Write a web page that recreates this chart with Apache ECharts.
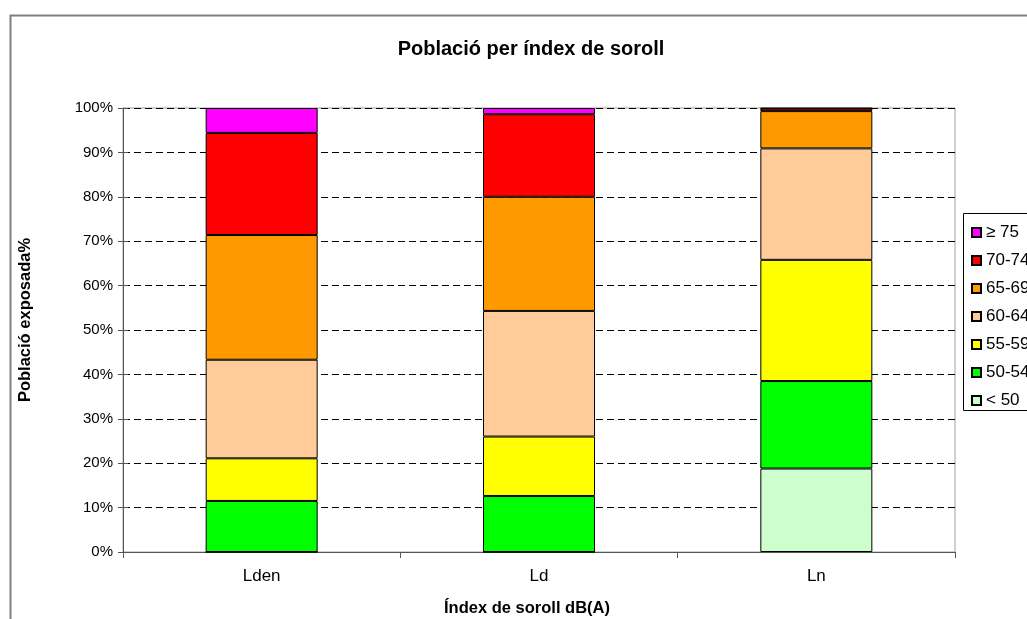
<!DOCTYPE html>
<html>
<head>
<meta charset="utf-8">
<script src="https://cdn.jsdelivr.net/npm/echarts@6/dist/echarts.min.js"></script>
<style>html,body{margin:0;padding:0;background:#fff}#c{width:1027px;height:619px}</style>
</head>
<body>
<div id="c"></div>
<script>
const categories = ['Lden', 'Ld', 'Ln'];
const seriesNames = ['< 50', '50-54', '55-59', '60-64', '65-69', '70-74', '≥ 75'];
const below50 = [0, 0, 18.8];
const r50_54 = [11.5, 12.6, 19.7];
const r55_59 = [9.6, 13.4, 27.3];
const r60_64 = [22.2, 28.3, 25.1];
const r65_69 = [28.1, 25.7, 8.4];
const r70_74 = [23.0, 18.6, 0.6];
const above75 = [5.6, 1.4, 0.1];
const yTicks = ['0%', '10%', '20%', '30%', '40%', '50%', '60%', '70%', '80%', '90%', '100%'];
const seriesValues = [below50, r50_54, r55_59, r60_64, r65_69, r70_74, above75];
const colors = ['#CCFFCC', '#00FF00', '#FFFF00', '#FFCC99', '#FF9900', '#FF0000', '#FF00FF'];

const chart = echarts.init(document.getElementById('c'), null, {renderer: 'canvas'});
const font = 'Liberation Sans, Arial, sans-serif';
chart.setOption({
  animation: false,
  backgroundColor: '#fff',
  textStyle: {fontFamily: font},
  title: {
    text: 'Població per índex de soroll',
    left: 526, top: 34, textAlign: 'center',
    textStyle: {fontFamily: font, fontSize: 20, fontWeight: 'bold', color: '#000'}
  },
  graphic: [
    {type: 'rect', left: 8, top: 13, shape: {width: 1100, height: 700}, style: {fill: 'none', stroke: '#808080', lineWidth: 2}, z: 0},
    {type: 'rect', left: 963, top: 213, shape: {width: 100, height: 197}, style: {fill: '#fff', stroke: '#000', lineWidth: 1}, z: 1}
  ],
  legend: {
    orient: 'vertical',
    left: 966, top: 219,
    data: seriesNames.slice().reverse(),
    icon: 'rect', itemWidth: 9, itemHeight: 9, itemGap: 11,
    textStyle: {fontFamily: font, fontSize: 17, color: '#000', lineHeight: 17},
    z: 5
  },
  grid: {left: 123, top: 108, width: 832, height: 444, outerBoundsMode: 'none', containLabel: false,
    show: true, borderColor: '#a0a0a0', borderWidth: 1, backgroundColor: 'transparent'},
  xAxis: {
    type: 'category', data: categories,
    name: 'Índex de soroll dB(A)', nameLocation: 'middle', nameGap: 48,
    nameTextStyle: {fontFamily: font, fontSize: 16.5, fontWeight: 'bold', color: '#000', padding: [0, 24, 0, 0]},
    axisLine: {lineStyle: {color: '#555', width: 1}},
    axisTick: {show: true, length: 6, lineStyle: {color: '#555'}},
    axisLabel: {fontFamily: font, fontSize: 17, color: '#000', margin: 16}
  },
  yAxis: [{
    type: 'value', min: 0, max: 100, interval: 10,
    name: 'Població exposada%', nameLocation: 'middle', nameGap: 89, nameRotate: 90,
    nameTextStyle: {fontFamily: font, fontSize: 16.5, fontWeight: 'bold', color: '#000', padding: [0, 0, 0, 20]},
    axisLine: {show: true, lineStyle: {color: '#555', width: 1}},
    axisTick: {show: true, length: 5, lineStyle: {color: '#555'}},
    axisLabel: {fontFamily: font, fontSize: 15, color: '#000', margin: 10, formatter: (v) => yTicks[Math.round(v / 10)]},
    splitLine: {show: true, lineStyle: {color: '#000', type: [7, 4], width: 1}}
  }, {
    type: 'value', min: 0, max: 100, interval: 10, position: 'left',
    axisLine: {show: false},
    axisTick: {show: true, inside: true, length: 5, lineStyle: {color: '#555'}},
    axisLabel: {show: false}, splitLine: {show: false}
  }],
  series: seriesNames.map((n, i) => ({
    name: n, type: 'bar', stack: 'total', barWidth: 112,
    data: seriesValues[i],
    itemStyle: {color: colors[i], borderColor: '#000', borderWidth: 1}
  }))
});
</script>
</body>
</html>
